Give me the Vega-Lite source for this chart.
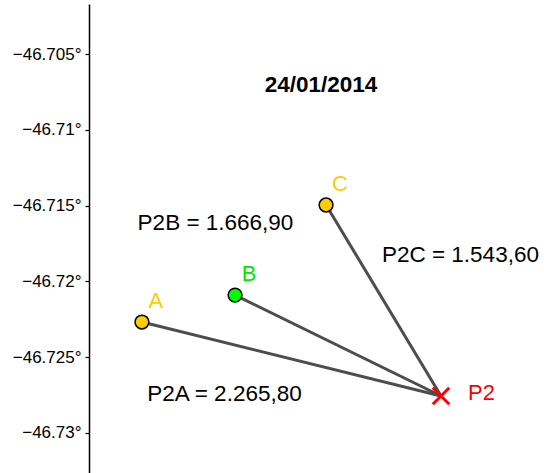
{
  "$schema": "https://vega.github.io/schema/vega-lite/v6.json",
  "autosize": "none",
  "width": 455,
  "height": 469,
  "padding": {"left": 89, "top": 4, "right": 0, "bottom": 0},
  "background": "white",
  "config": {
    "view": {"stroke": null},
    "font": "Liberation Sans",
    "text": {"font": "Liberation Sans"}
  },
  "datasets": {
    "points": [
      {"name": "A", "lat": -23.59651, "lon": -46.72268},
      {"name": "B", "lat": -23.59037, "lon": -46.72090},
      {"name": "C", "lat": -23.58437, "lon": -46.71496},
      {"name": "P2", "lat": -23.57679, "lon": -46.72756}
    ],
    "distances": [
      {"label": "P2B = 1.666,90", "lat": -23.59166, "lon": -46.71615},
      {"label": "P2C = 1.543,60", "lat": -23.57551, "lon": -46.71826},
      {"label": "P2A = 2.265,80", "lat": -23.59107, "lon": -46.72743}
    ],
    "title": [
      {"label": "24/01/2014", "lat": -23.58470, "lon": -46.70704}
    ]
  },
  "layer": [
    {
      "data": {"name": "points"},
      "transform": [{"filter": "datum.name !== 'P2'"}],
      "mark": {"type": "rule", "color": "#4D4D4D", "strokeWidth": 3},
      "encoding": {
        "x": {"field": "lat", "type": "quantitative", "scale": {"domain": [-23.6, -23.57], "nice": false, "zero": false}, "axis": null},
        "y": {"field": "lon", "type": "quantitative", "scale": {"domain": [-46.73264, -46.7017], "nice": false, "zero": false},
          "axis": {
            "values": [-46.73, -46.725, -46.72, -46.715, -46.71, -46.705],
            "labelExpr": "replace(format(datum.value, '.5~g'), '-', '–') + '°'",
            "title": null,
            "grid": false,
            "domainColor": "#000000",
            "domainWidth": 1.5,
            "tickColor": "#000000",
            "tickSize": 4,
            "tickWidth": 1.2,
            "labelFontSize": 17,
            "labelColor": "#000000",
            "labelFont": "Liberation Sans",
            "labelPadding": 4
          }
        },
        "x2": {"datum": -23.57679},
        "y2": {"datum": -46.72756}
      }
    },
    {
      "data": {"name": "points"},
      "transform": [{"filter": "datum.name !== 'P2'"}],
      "mark": {"type": "point", "shape": "circle", "filled": true, "size": 190, "stroke": "#000000", "strokeWidth": 1.5, "opacity": 1},
      "encoding": {
        "x": {"field": "lat", "type": "quantitative"},
        "y": {"field": "lon", "type": "quantitative"},
        "fill": {"field": "name", "type": "nominal", "scale": {"domain": ["A", "B", "C"], "range": ["#FFCC00", "#00FF00", "#FFCC00"]}, "legend": null}
      }
    },
    {
      "data": {"name": "points"},
      "transform": [{"filter": "datum.name === 'P2'"}],
      "mark": {"type": "point", "shape": "M-1,-1L1,1M-1,1L1,-1", "filled": false, "size": 270, "stroke": "#FF0000", "strokeWidth": 3, "opacity": 1},
      "encoding": {
        "x": {"field": "lat", "type": "quantitative"},
        "y": {"field": "lon", "type": "quantitative"}
      }
    },
    {
      "data": {"name": "points"},
      "transform": [{"filter": "datum.name !== 'P2'"}],
      "mark": {"type": "text", "fontSize": 22, "dx": 14, "dy": -21, "align": "center", "baseline": "middle"},
      "encoding": {
        "x": {"field": "lat", "type": "quantitative"},
        "y": {"field": "lon", "type": "quantitative"},
        "text": {"field": "name"},
        "color": {"field": "name", "type": "nominal", "scale": {"domain": ["A", "B", "C"], "range": ["#FFCC00", "#00E600", "#FFCC00"]}, "legend": null}
      }
    },
    {
      "data": {"name": "points"},
      "transform": [{"filter": "datum.name === 'P2'"}],
      "mark": {"type": "text", "fontSize": 22, "dx": 27, "dy": -3, "align": "left", "baseline": "middle", "color": "#FF0000"},
      "encoding": {
        "x": {"field": "lat", "type": "quantitative"},
        "y": {"field": "lon", "type": "quantitative"},
        "text": {"field": "name"}
      }
    },
    {
      "data": {"name": "distances"},
      "mark": {"type": "text", "fontSize": 22.5, "align": "center", "baseline": "middle", "color": "#000000"},
      "encoding": {
        "x": {"field": "lat", "type": "quantitative"},
        "y": {"field": "lon", "type": "quantitative"},
        "text": {"field": "label"}
      }
    },
    {
      "data": {"name": "title"},
      "mark": {"type": "text", "fontSize": 22.5, "fontWeight": "bold", "align": "center", "baseline": "middle", "color": "#000000"},
      "encoding": {
        "x": {"field": "lat", "type": "quantitative"},
        "y": {"field": "lon", "type": "quantitative"},
        "text": {"field": "label"}
      }
    }
  ]
}
